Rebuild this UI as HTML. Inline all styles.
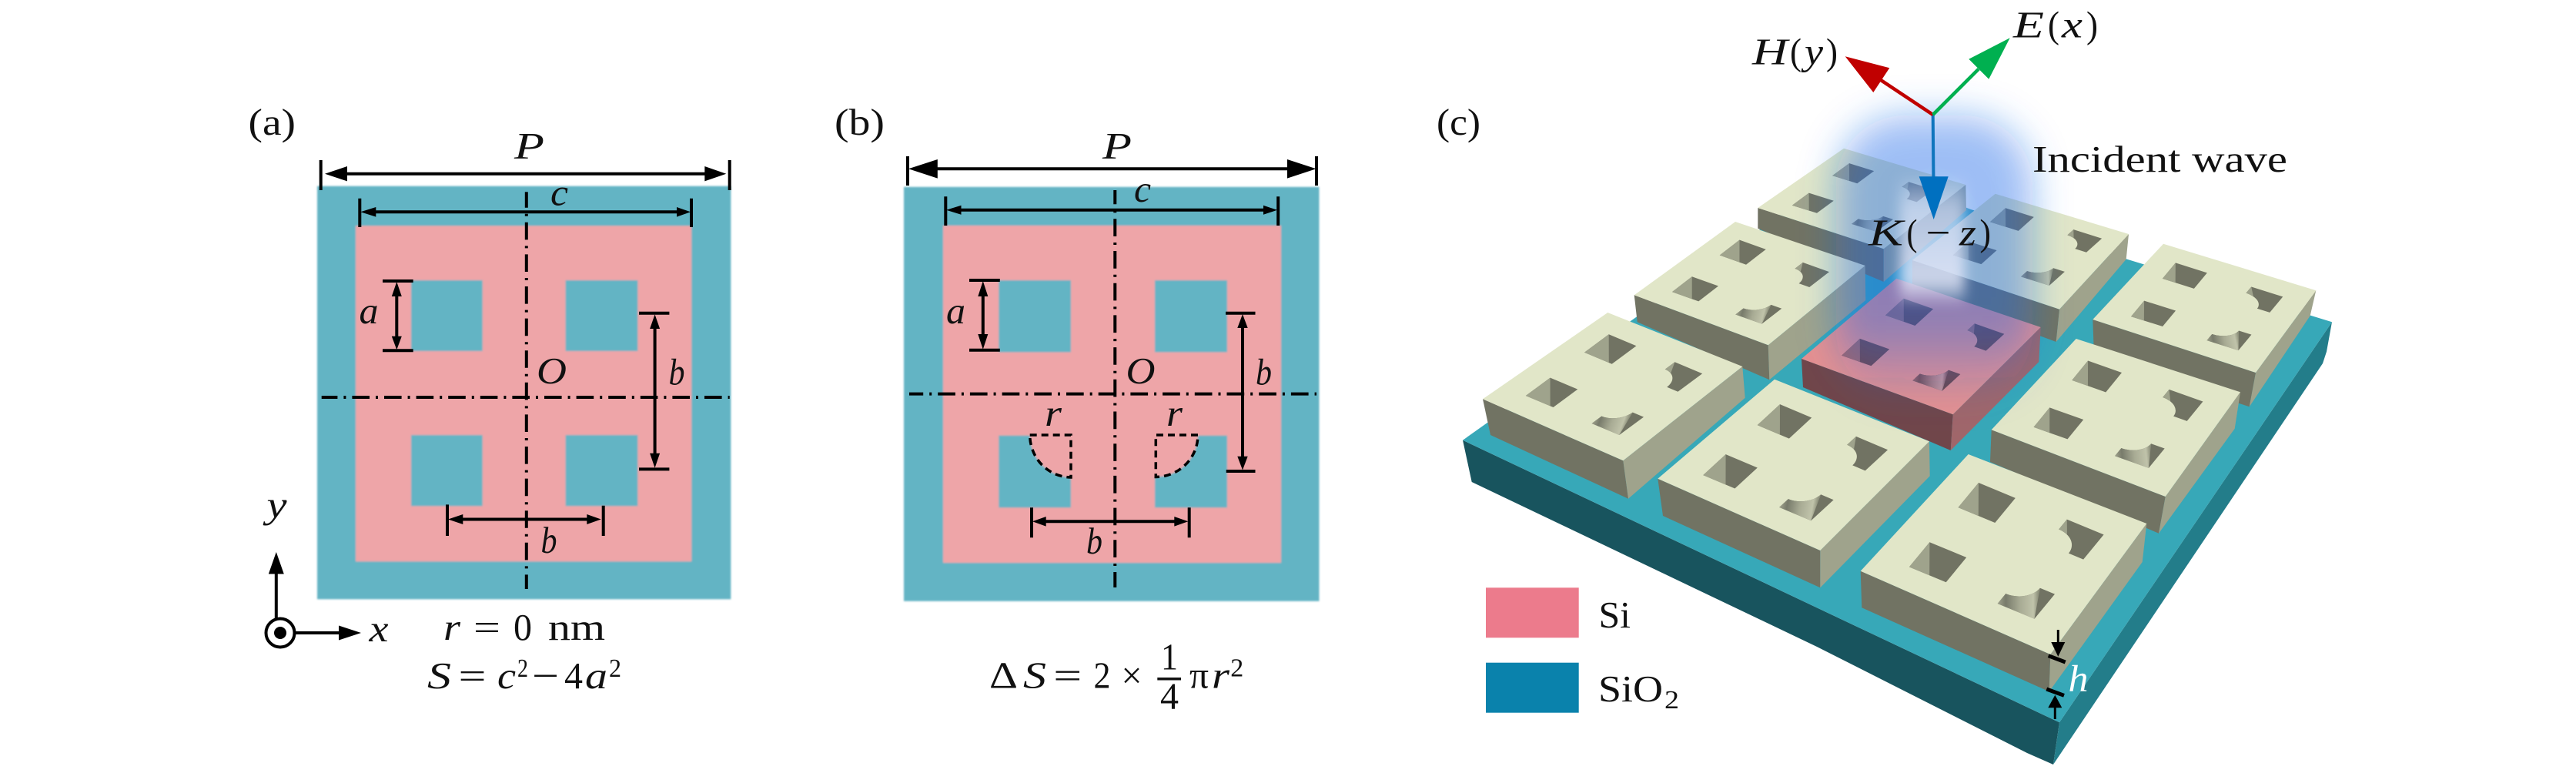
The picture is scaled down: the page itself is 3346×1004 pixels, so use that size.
<!DOCTYPE html>
<html><head><meta charset="utf-8"><style>
html,body{margin:0;padding:0;background:#fff}
svg{display:block}
text{font-family:"Liberation Serif",serif;font-size:49px;fill:#111}
.i{font-style:italic}
.s{font-size:34px}
</style></head><body>
<svg xmlns="http://www.w3.org/2000/svg" width="3346" height="1004" viewBox="0 0 3346 1004">
<defs>
<linearGradient id="w" gradientUnits="userSpaceOnUse" x1="-34" y1="14" x2="-24.7" y2="30.900"><stop offset="0" stop-color="#a0a38d"/><stop offset=".2" stop-color="#787b6b"/><stop offset=".55" stop-color="#a8ab94"/><stop offset=".88" stop-color="#c0c3aa"/><stop offset="1" stop-color="#8f927d"/></linearGradient>
<linearGradient id="wr" gradientUnits="userSpaceOnUse" x1="-34" y1="14" x2="-24.7" y2="30.900"><stop offset="0" stop-color="#a0666a"/><stop offset=".2" stop-color="#7a4e52"/><stop offset=".6" stop-color="#b07c80"/><stop offset=".88" stop-color="#c89498"/><stop offset="1" stop-color="#8a5a60"/></linearGradient>
<g id="h">
<polygon points="34,-34 34,-14 14,-14 14,-34" fill="#717363"/>
<polygon points="-14,-34 -14,-14 -34,-14 -34,-34" fill="#717363"/>
<path d="M34 14L26 14A12 12 0 0 1 14 26L14 34L34 34Z" fill="#717363"/>
<path d="M34 14L26 14A12 12 0 0 1 24.900 19.100Z" fill="#9fa38c"/>
<path d="M-26 14A12 12 0 0 0 -14 26L-14 34L-34 34L-34 14Z" fill="#717363"/>
<path d="M-26 14A12 12 0 0 0 -14 26L-34 34L-34 14Z" fill="url(#w)"/>
</g>
<g id="hr">
<polygon points="34,-34 34,-14 14,-14 14,-34" fill="#70464a"/>
<polygon points="-14,-34 -14,-14 -34,-14 -34,-34" fill="#70464a"/>
<path d="M34 14L26 14A12 12 0 0 1 14 26L14 34L34 34Z" fill="#70464a"/>
<path d="M34 14L26 14A12 12 0 0 1 24.900 19.100Z" fill="#a0666a"/>
<path d="M-26 14A12 12 0 0 0 -14 26L-14 34L-34 34L-34 14Z" fill="#70464a"/>
<path d="M-26 14A12 12 0 0 0 -14 26L-34 34L-34 14Z" fill="url(#wr)"/>
</g>
<linearGradient id="glow" gradientUnits="userSpaceOnUse" x1="0" y1="140" x2="0" y2="530">
<stop offset="0" stop-color="#1f67e7" stop-opacity=".42"/><stop offset=".72" stop-color="#1f67e7" stop-opacity=".42"/><stop offset="1" stop-color="#1f67e7" stop-opacity="0"/>
</linearGradient>
<linearGradient id="core" gradientUnits="userSpaceOnUse" x1="0" y1="225" x2="0" y2="400">
<stop offset="0" stop-color="#e2e8fa" stop-opacity="0"/><stop offset=".25" stop-color="#dfe5f8" stop-opacity=".6"/><stop offset=".8" stop-color="#e4e8f8" stop-opacity=".85"/><stop offset="1" stop-color="#efe8f4" stop-opacity="0"/>
</linearGradient>
<filter id="b1" x="-40%" y="-30%" width="180%" height="160%"><feGaussianBlur stdDeviation="24"/></filter>
<filter id="b2" x="-50%" y="-30%" width="200%" height="160%"><feGaussianBlur stdDeviation="8"/></filter>
<filter id="b0" x="-5%" y="-5%" width="110%" height="110%"><feGaussianBlur stdDeviation="1"/></filter>
</defs>

<!-- (a) -->
<g filter="url(#b0)">
<rect x="412" y="241.700" width="537.300" height="536.600" fill="#64b4c4"/>
<rect x="462" y="293.300" width="436.300" height="436" fill="#eea5a8"/>
<g fill="#64b4c4">
<rect x="534" y="364" width="92.700" height="92"/><rect x="734.600" y="364" width="93.700" height="92"/>
<rect x="534" y="565" width="92.700" height="92.300"/><rect x="734.600" y="565" width="93.700" height="92.300"/>
</g>
</g>
<g stroke="#000" stroke-width="4" fill="none">
<path d="M683.800 249.300V765" stroke-dasharray="22.600 8 3 8" stroke-dashoffset="2.100"/>
<path d="M417.700 516H947.700" stroke-dasharray="22.600 8 3 8" stroke-dashoffset="1.900"/>
<path d="M440 225.700H925M416.700 208V247M947.700 208V247"/>
<path d="M480 275.300H885M467.300 257.700V295M898 257.700V295"/>
<path d="M497 365H536.700M497 455.300H536.700M515.300 375V445"/>
<path d="M830 406.700H869.400M830 609.400H869.400M850.600 415V600"/>
<path d="M595 674.500H770M581 655.400V696M783.700 656.700V696"/>
<path d="M358.800 803V740M383 822H445"/>
<circle cx="364" cy="822" r="18.500"/>
</g>
<g fill="#000">
<polygon points="422,225.700 451,216 451,235.400"/><polygon points="943.300,225.700 915.300,216 915.300,235.400"/>
<polygon points="468.300,275.300 488.300,269 488.300,281.600"/><polygon points="897,275.300 879,269 879,281.600"/>
<polygon points="515.300,366 508.800,385 521.800,385"/><polygon points="515.300,454.300 508.800,436.700 521.800,436.700"/>
<polygon points="850.600,408.400 844.100,427 857.100,427"/><polygon points="850.600,607.800 844.100,588.700 857.100,588.700"/>
<polygon points="582,674.500 601.300,668 601.300,681"/><polygon points="780.700,674.500 762.300,668 762.300,681"/>
<polygon points="358.800,717 348.800,745.500 368.800,745.500"/><polygon points="469,822 440,812.500 440,831.500"/>
<circle cx="364" cy="822" r="8"/>
</g>
<text x="322.500" y="175" textLength="61.500" lengthAdjust="spacingAndGlyphs">(a)</text>
<text class="i" x="668" y="206" textLength="39" lengthAdjust="spacingAndGlyphs">P</text>
<text class="i" x="715" y="266.500" textLength="23" lengthAdjust="spacingAndGlyphs">c</text>
<text class="i" x="466.500" y="420" textLength="25" lengthAdjust="spacingAndGlyphs">a</text>
<text class="i" x="868.500" y="499.500" textLength="21" lengthAdjust="spacingAndGlyphs">b</text>
<text class="i" x="697" y="498" textLength="39" lengthAdjust="spacingAndGlyphs">O</text>
<text class="i" x="702.500" y="718" textLength="21" lengthAdjust="spacingAndGlyphs">b</text>
<text class="i" x="346.500" y="672" textLength="26" lengthAdjust="spacingAndGlyphs">y</text>
<text class="i" x="479.500" y="833" textLength="25" lengthAdjust="spacingAndGlyphs">x</text>
<text class="i" x="576" y="831" textLength="22" lengthAdjust="spacingAndGlyphs">r</text>
<text x="615" y="831" textLength="35" lengthAdjust="spacingAndGlyphs">=</text>
<text x="667" y="831" textLength="24" lengthAdjust="spacingAndGlyphs">0</text>
<text x="712" y="831" textLength="74" lengthAdjust="spacingAndGlyphs">nm</text>
<text class="i" x="555" y="894" textLength="31" lengthAdjust="spacingAndGlyphs">S</text>
<text x="595.500" y="894" textLength="36" lengthAdjust="spacingAndGlyphs">=</text>
<text class="i" x="646" y="894" textLength="24" lengthAdjust="spacingAndGlyphs">c</text>
<text class="s" x="672" y="879" textLength="14" lengthAdjust="spacingAndGlyphs">2</text>
<text x="691" y="894" textLength="35" lengthAdjust="spacingAndGlyphs">−</text>
<text x="733" y="894" textLength="24" lengthAdjust="spacingAndGlyphs">4</text>
<text class="i" x="760" y="894" textLength="29" lengthAdjust="spacingAndGlyphs">a</text>
<text class="s" x="791" y="879" textLength="16" lengthAdjust="spacingAndGlyphs">2</text>

<!-- (b) -->
<g filter="url(#b0)">
<rect x="1174" y="242.800" width="539.500" height="538" fill="#64b4c4"/>
<rect x="1225" y="293" width="439" height="438" fill="#eea5a8"/>
<g fill="#64b4c4">
<rect x="1297.300" y="364" width="93.700" height="93.500"/><rect x="1500" y="364" width="94" height="93.500"/>
<rect x="1297.300" y="565.700" width="93.700" height="93.600"/><rect x="1500" y="565.700" width="94" height="93.600"/>
</g>
<path d="M1337.700 565H1391V620A54 55 0 0 1 1337.700 565Z" fill="#eea5a8"/>
<path d="M1556 565H1500V619.500A55 54.500 0 0 0 1556 565Z" fill="#eea5a8"/>
</g>
<g stroke="#000" stroke-width="4" fill="none">
<path d="M1448.300 247V763" stroke-dasharray="22.700 8 3 8" stroke-dashoffset="4.400"/>
<path d="M1181 511.600H1710" stroke-dasharray="22.700 8 3 8" stroke-dashoffset="4.500"/>
<path d="M1210 219.300H1680M1179 203V241M1710 203V241"/>
<path d="M1240 272.800H1650M1228.300 255.300V293M1660.200 255.300V293"/>
<path d="M1259 364H1298.800M1259 454.800H1298.800M1276.800 375V445"/>
<path d="M1592 406.700H1630.500M1592.700 612H1630.500M1614 415V600"/>
<path d="M1350 677.300H1535M1340 659.300V698.300M1544.700 659.300V698.300"/>
<g stroke-width="3.500" stroke-dasharray="9 6">
<path d="M1337.700 565H1391V620A54 55 0 0 1 1337.700 565"/>
<path d="M1556 565H1501.300V619.500A55 54.500 0 0 0 1556 565"/>
</g>
</g>
<g fill="#000">
<polygon points="1180,219.300 1217.800,207 1217.800,231.600"/><polygon points="1709.600,219.300 1672,207 1672,231.600"/>
<polygon points="1229,272.800 1248.500,266.800 1248.500,278.800"/><polygon points="1659,272.800 1641,266.800 1641,278.800"/>
<polygon points="1276.800,365 1270.300,385 1283.300,385"/><polygon points="1276.800,453.700 1270.300,434 1283.300,434"/>
<polygon points="1614,408 1607.300,426 1620.700,426"/><polygon points="1614,610.500 1607.300,592.700 1620.700,592.700"/>
<polygon points="1341,677.300 1358.700,671 1358.700,683.600"/><polygon points="1543.300,677.300 1525.300,671 1525.300,683.600"/>
</g>
<text x="1084" y="175" textLength="65" lengthAdjust="spacingAndGlyphs">(b)</text>
<text class="i" x="1432" y="206" textLength="38" lengthAdjust="spacingAndGlyphs">P</text>
<text class="i" x="1473" y="262" textLength="22" lengthAdjust="spacingAndGlyphs">c</text>
<text class="i" x="1229" y="420" textLength="25" lengthAdjust="spacingAndGlyphs">a</text>
<text class="i" x="1631" y="499.500" textLength="21" lengthAdjust="spacingAndGlyphs">b</text>
<text class="i" x="1462.500" y="498" textLength="38" lengthAdjust="spacingAndGlyphs">O</text>
<text class="i" x="1411" y="719" textLength="21" lengthAdjust="spacingAndGlyphs">b</text>
<text class="i" x="1357" y="553" textLength="22" lengthAdjust="spacingAndGlyphs">r</text>
<text class="i" x="1515" y="553" textLength="21" lengthAdjust="spacingAndGlyphs">r</text>
<text x="1285" y="893.300" textLength="37" lengthAdjust="spacingAndGlyphs">Δ</text>
<text class="i" x="1329" y="893.300" textLength="30" lengthAdjust="spacingAndGlyphs">S</text>
<text x="1368.300" y="893.300" textLength="37" lengthAdjust="spacingAndGlyphs">=</text>
<text x="1420.500" y="893.300" textLength="22" lengthAdjust="spacingAndGlyphs">2</text>
<text x="1456.500" y="893.300" textLength="27" lengthAdjust="spacingAndGlyphs">×</text>
<text x="1508" y="869.300" textLength="22" lengthAdjust="spacingAndGlyphs">1</text>
<rect x="1503.300" y="880" width="30.700" height="3.500" fill="#111"/>
<text x="1507" y="920.500" textLength="24" lengthAdjust="spacingAndGlyphs">4</text>
<text x="1545" y="893.300" textLength="25" lengthAdjust="spacingAndGlyphs">π</text>
<text class="i" x="1574" y="893.300" textLength="23" lengthAdjust="spacingAndGlyphs">r</text>
<text class="s" x="1598.300" y="878.300" textLength="17" lengthAdjust="spacingAndGlyphs">2</text>

<!-- (c) substrate -->
<polygon points="1900,571.700 1911.700,626 2360,840 2633,978 2667,993 2675,938.300" fill="#18545e"/>
<polygon points="3029,418.300 3022,456.700 3017,472 2667,993 2675,938.300" fill="#237d8a"/>
<polygon points="1900,571.700 2290,295 2400,210 2560,272 2763,336.700 3029,418.300 2675,938.300" fill="#37a8b8"/>

<!-- G -->
<polygon points="2283.300,270 2446.700,323.300 2446.700,366 2283.300,296.700" fill="#717363"/><polygon points="2446.700,323.300 2553.300,240 2554,273 2446.700,366" fill="#9fa38c"/><polygon points="2283.300,270 2395,192.700 2553.300,240 2446.700,323.300" fill="#e1e6c8"/>
<g transform="matrix(1.0915 -.803 1.6085 .503 2419.600 256.500)"><use href="#h"/><path d="M34 -34L14 -34L14 -20.400ZM-14 -34L-34 -34L-34 -20.400Z" fill="#9fa38c"/></g>
<!-- H -->
<polygon points="2484,338 2675,401.700 2670.700,444 2484,375" fill="#717363"/><polygon points="2675,401.700 2765,304 2761.700,336.700 2670.700,444" fill="#9fa38c"/><polygon points="2484,338 2591.700,251.700 2765,304 2675,401.700" fill="#e1e6c8"/>
<g transform="matrix(1.005 -.9 1.84 .58 2633.400 320.600)"><use href="#h"/><path d="M34 -34L14 -34L14 -23ZM-14 -34L-34 -34L-34 -23Z" fill="#9fa38c"/></g>
<!-- D -->
<polygon points="2122.700,383.300 2296.700,448.300 2298.300,493.300 2126.700,418.300" fill="#717363"/><polygon points="2296.700,448.300 2422.700,345 2423.300,390 2298.300,493.300" fill="#9fa38c"/><polygon points="2122.700,383.300 2254,288 2422.700,345 2296.700,448.300" fill="#e1e6c8"/>
<g transform="matrix(1.2865 -.993 1.7135 .61 2274 366.150)"><use href="#h"/><path d="M34 -34L14 -34L14 -19ZM-14 -34L-34 -34L-34 -19Z" fill="#9fa38c"/></g>
<!-- I -->
<polygon points="2718.300,415 2930,484 2921.700,528.300 2720,462" fill="#717363"/><polygon points="2930,484 3008.300,377.300 3000.700,410 2921.700,528.300" fill="#9fa38c"/><polygon points="2718.300,415 2810,316.700 3008.300,377.300 2930,484" fill="#e1e6c8"/>
<g transform="matrix(.85 -1.025 2.05 .648 2866.650 398.250)"><use href="#h"/><path d="M34 -34L14 -34L14 -25.800ZM-14 -34L-34 -34L-34 -25.800Z" fill="#9fa38c"/></g>
<!-- E red -->
<polygon points="2340,466 2536.700,538.300 2533.800,585 2342,503" fill="#70464a"/><polygon points="2536.700,538.300 2650.700,425 2648.300,470 2533.800,585" fill="#a0666a"/><polygon points="2340,466 2463.300,361.700 2650.700,425 2536.700,538.300" fill="#e59090"/>
<g transform="matrix(1.1865 -1.088 1.92 .678 2497.700 447.750)"><use href="#hr"/><path d="M34 -34L14 -34L14 -21.600ZM-14 -34L-34 -34L-34 -21.600Z" fill="#a0666a"/></g>
<!-- A -->
<polygon points="1926,518.300 2108.300,598.300 2115,647.700 1936,565" fill="#717363"/><polygon points="2108.300,598.300 2263.300,476 2266.700,516.700 2115,647.700" fill="#9fa38c"/><polygon points="1926,518.300 2088.300,406 2263.300,476 2108.300,598.300" fill="#e1e6c8"/>
<g transform="matrix(1.5865 -1.173 1.7865 .75 2096.500 499.650)"><use href="#h"/><path d="M34 -34L14 -34L14 -16.200ZM-14 -34L-34 -34L-34 -16.200Z" fill="#9fa38c"/></g>
<!-- F -->
<polygon points="2586.700,558.300 2812.700,645 2804,692.700 2585,600" fill="#717363"/><polygon points="2812.700,645 2910,509.300 2902.700,556.700 2804,692.700" fill="#9fa38c"/><polygon points="2586.700,558.300 2696.700,440 2910,509.300 2812.700,645" fill="#e1e6c8"/>
<g transform="matrix(1.0365 -1.27 2.1965 .78 2751.500 538.150)"><use href="#h"/><path d="M34 -34L14 -34L14 -24.600ZM-14 -34L-34 -34L-34 -24.600Z" fill="#9fa38c"/></g>
<!-- B -->
<polygon points="2153.300,621.700 2364.300,715 2364.300,763.300 2160,670" fill="#717363"/><polygon points="2364.300,715 2506,573.300 2506.700,618.300 2364.300,763.300" fill="#9fa38c"/><polygon points="2153.300,621.700 2305,492.700 2506,573.300 2364.300,715" fill="#e1e6c8"/>
<g transform="matrix(1.467 -1.3535 2.06 .87 2332.150 600.700)"><use href="#h"/><path d="M34 -34L14 -34L14 -19.800ZM-14 -34L-34 -34L-34 -19.800Z" fill="#9fa38c"/></g>
<!-- C -->
<polygon points="2416.700,741.700 2663.300,850 2661.700,898.300 2418.300,789.300" fill="#717363"/><polygon points="2663.300,850 2788.300,680 2782.700,730 2661.700,898.300" fill="#9fa38c"/><polygon points="2416.700,741.700 2556.700,590 2788.300,680 2663.300,850" fill="#e1e6c8"/>
<g transform="matrix(1.325 -1.6085 2.391 .9915 2606.250 715.400)"><use href="#h"/><path d="M34 -34L14 -34L14 -23ZM-14 -34L-34 -34L-34 -23Z" fill="#9fa38c"/></g>

<!-- glow -->
<rect x="2385" y="150" width="255" height="370" rx="90" fill="url(#glow)" filter="url(#b1)"/>
<rect x="2468" y="230" width="84" height="165" fill="url(#core)" filter="url(#b2)"/>

<!-- h marker -->
<g stroke="#000" fill="none">
<path d="M2660.700 851.700L2682.700 860M2658.300 895L2681 903.300" stroke-width="5"/>
<path d="M2673.300 818V836M2669.300 934V918" stroke-width="3"/>
</g>
<polygon points="2673.300,852.700 2664.300,834 2682.300,834" fill="#000"/>
<polygon points="2669.300,902.700 2660.300,919.300 2678.300,919.300" fill="#000"/>
<text class="i" x="2686.500" y="897.300" textLength="26" lengthAdjust="spacingAndGlyphs" style="fill:#fff">h</text>

<!-- arrows -->
<path d="M2510.700 149L2511.500 235" stroke="#0f75bd" stroke-width="4"/>
<polygon points="2511.700,285 2492.700,229.300 2530.700,229.300" fill="#0070c0"/>
<path d="M2510.700 149L2443 104" stroke="#c00000" stroke-width="4.500" fill="none"/>
<path d="M2510.700 149L2570 89.700" stroke="#00b050" stroke-width="4.500" fill="none"/>
<polygon points="2396.700,73.300 2454.300,88.300 2433.300,120" fill="#c00000"/>
<polygon points="2610.700,49.300 2557.300,76.700 2583.300,102.700" fill="#00b050"/>

<!-- labels c -->
<text x="1866" y="175" textLength="57" lengthAdjust="spacingAndGlyphs">(c)</text>
<text class="i" x="2615" y="48.300" textLength="40" lengthAdjust="spacingAndGlyphs">E</text>
<text x="2660" y="48.300" textLength="15" lengthAdjust="spacingAndGlyphs">(</text>
<text class="i" x="2678" y="48.300" textLength="27" lengthAdjust="spacingAndGlyphs">x</text>
<text x="2710" y="48.300" textLength="15" lengthAdjust="spacingAndGlyphs">)</text>
<text class="i" x="2276" y="83.300" textLength="46" lengthAdjust="spacingAndGlyphs">H</text>
<text x="2325" y="83.300" textLength="15" lengthAdjust="spacingAndGlyphs">(</text>
<text class="i" x="2344" y="83.300" textLength="24" lengthAdjust="spacingAndGlyphs">y</text>
<text x="2372" y="83.300" textLength="15" lengthAdjust="spacingAndGlyphs">)</text>
<text class="i" x="2427" y="318.300" textLength="45" lengthAdjust="spacingAndGlyphs">K</text>
<text x="2476.500" y="318.300" textLength="14" lengthAdjust="spacingAndGlyphs">(</text>
<text x="2501.500" y="318.300" textLength="32" lengthAdjust="spacingAndGlyphs">−</text>
<text class="i" x="2545" y="318.300" textLength="22" lengthAdjust="spacingAndGlyphs">z</text>
<text x="2571.500" y="318.300" textLength="14.500" lengthAdjust="spacingAndGlyphs">)</text>
<text x="2640" y="223" textLength="331" lengthAdjust="spacingAndGlyphs">Incident wave</text>

<!-- legend -->
<rect x="1930" y="763.300" width="120.700" height="65" fill="#ec7b8c"/>
<rect x="1930" y="860.700" width="120.700" height="65" fill="#0a82ac"/>
<text x="2076.500" y="815" textLength="41.500" lengthAdjust="spacingAndGlyphs">Si</text>
<text x="2076" y="911" textLength="84" lengthAdjust="spacingAndGlyphs">SiO</text>
<text class="s" x="2162" y="920" textLength="19" lengthAdjust="spacingAndGlyphs">2</text>
</svg>
</body></html>
